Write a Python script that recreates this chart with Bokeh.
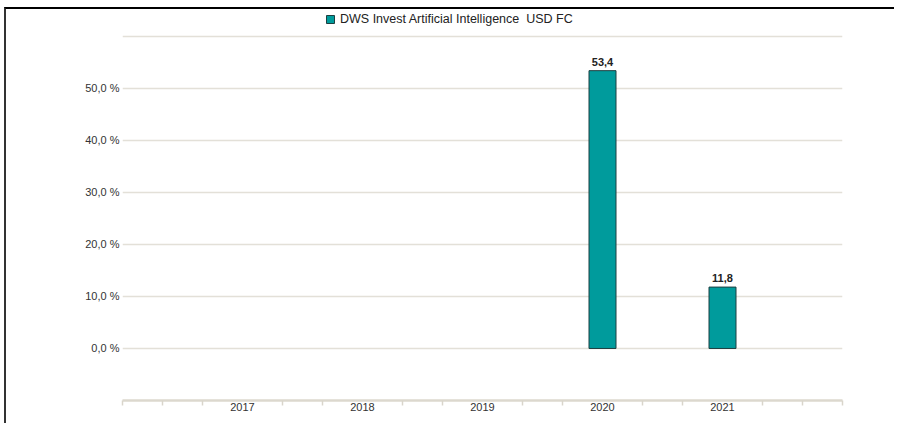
from bokeh.plotting import figure
from bokeh.models import (Range1d, FixedTicker, CustomJSTickFormatter, ColumnDataSource,
                          Legend, LegendItem)
from bokeh.core.properties import value
from bokeh.embed import file_html
from bokeh.resources import INLINE

# ---- data ----
years = [2017, 2018, 2019, 2020, 2021]
returns = [None, None, None, 53.4, 11.8]
series_name = "DWS Invest Artificial Intelligence  USD FC"
y_ticks = [0, 10, 20, 30, 40, 50]
grid_ticks = [0, 10, 20, 30, 40, 50, 60]

FONT = "Liberation Sans"
TEAL = "#009b9c"

xs = [y for y, v in zip(years, returns) if v is not None]
vs = [v for v in returns if v is not None]
labels = [f"{v:.1f}".replace(".", ",") for v in vs]
src = ColumnDataSource(dict(x=xs, top=vs, label=labels))

p = figure(width=890, height=416, output_backend="svg", toolbar_location=None,
           x_range=Range1d(2016, 2022), y_range=Range1d(-10.0, 64.58),
           min_border_left=116, min_border_right=54, min_border_top=3, min_border_bottom=25,
           outline_line_color=None, background_fill_color="white",
           styles={"border-top": "2px solid #000", "border-left": "2px solid #333",
                   "margin-top": "7px", "margin-left": "4px"})

r = p.vbar(x="x", top="top", bottom=0, width=0.225, source=src,
           fill_color=TEAL, line_color="#1d3f40", line_width=1)
p.text(x="x", y="top", text="label", source=src, text_align="center", text_baseline="bottom",
       y_offset=-5, text_font=value(FONT), text_font_size="11px", text_color="#222222",
       text_font_style="bold")

# x axis
xa = p.xaxis[0]
minor = [2016 + i / 3 for i in range(19) if i % 3 != 0] + [2016, 2022]
xa.ticker = FixedTicker(ticks=years, minor_ticks=minor)
xa.major_tick_out = 0
xa.major_tick_in = 0
xa.minor_tick_out = 5
xa.minor_tick_in = 0
xa.minor_tick_line_color = "#d9d5cb"
xa.minor_tick_line_width = 1.5
xa.axis_line_color = "#dcd8ce"
xa.axis_line_width = 2.5
xa.major_label_standoff = -3
xa.major_label_text_font = FONT
xa.major_label_text_font_size = "11px"
xa.major_label_text_color = "#333333"
xa.formatter = CustomJSTickFormatter(code="return String(Math.round(tick));")

# y axis
ya = p.yaxis[0]
ya.ticker = FixedTicker(ticks=y_ticks)
ya.formatter = CustomJSTickFormatter(code="return tick.toFixed(1).replace('.', ',') + ' %';")
ya.major_tick_out = 0
ya.major_tick_in = 0
ya.minor_tick_out = 0
ya.minor_tick_in = 0
ya.axis_line_color = None
ya.major_label_standoff = 3
ya.major_label_text_font = FONT
ya.major_label_text_font_size = "11px"
ya.major_label_text_color = "#333333"

p.xgrid.visible = False
p.ygrid.ticker = FixedTicker(ticks=grid_ticks)
p.ygrid.grid_line_color = "#e3e0d8"
p.ygrid.grid_line_width = 1.5

legend = Legend(items=[LegendItem(label=series_name, renderers=[r])],
                location=(203, 374), orientation="horizontal",
                padding=0, margin=0, border_line_color=None, background_fill_alpha=0,
                glyph_width=10, glyph_height=10, label_standoff=5, label_height=12,
                label_text_font=FONT, label_text_font_size="12.5px", label_text_color="#222222")
p.add_layout(legend, "center")

open("out.html", "w").write(file_html(p, INLINE))
